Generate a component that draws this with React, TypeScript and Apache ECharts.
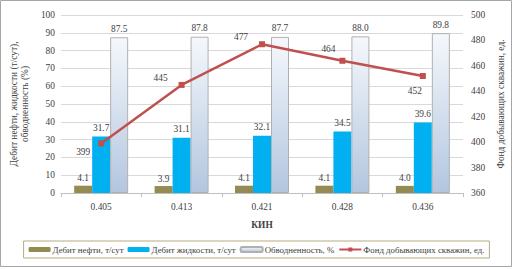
import React, { useEffect, useRef } from "react";
import * as echarts from "echarts";

const categories = ["0.405", "0.413", "0.421", "0.428", "0.436"];
const oilRate = [4.1, 3.9, 4.1, 4.1, 4.0];
const liquidRate = [31.7, 31.1, 32.1, 34.5, 39.6];
const waterCut = [87.5, 87.8, 87.7, 88.0, 89.8];
const wellStock = [399, 445, 477, 464, 452];
const wellLabelOffsets = [[-18, 9], [-21, -7], [-21, -7], [-14, -12], [-8, 15]];

const FONT = '"Times New Roman", "Liberation Serif", serif';
const FS = 9.4;
const LEGEND_FS = 8.8;
const TXT = "#404040";

export default function App() {
  const ref = useRef<HTMLDivElement>(null);
  useEffect(() => {
    document.body.style.margin = "0";
    const chart = echarts.init(ref.current!, null, { renderer: "svg" });
    const labelStyle = { fontFamily: FONT, fontSize: FS, color: TXT };
    chart.setOption({
      animation: false,
      textStyle: { fontFamily: FONT },
      graphic: [
        {
          type: "rect",
          shape: { x: 0.5, y: 0.5, width: 511, height: 266 },
          style: { fill: "none", stroke: "#a6a6a6", lineWidth: 1 },
          silent: true,
        },
      ],
      grid: { left: 58, right: 48, top: 15, bottom: 76 },
      legend: {
        left: "center",
        top: 241,
        width: 500,
        padding: [4, 5],
        itemGap: 4,
        itemWidth: 22,
        itemHeight: 5,
        borderColor: "#b5ad7d",
        borderWidth: 1,
        textStyle: { fontFamily: FONT, fontSize: LEGEND_FS, color: TXT, padding: [0, 0, 0, -3] },
        data: [
          "Дебит нефти, т/сут",
          "Дебит жидкости, т/сут",
          "Обводненность, %",
          "Фонд добывающих скважин, ед.",
        ],
      },
      xAxis: {
        type: "category",
        data: categories,
        name: "КИН",
        nameLocation: "middle",
        nameGap: 27,
        nameTextStyle: { fontFamily: FONT, fontSize: FS, color: TXT, fontWeight: "bold" },
        axisLine: { lineStyle: { color: "#bfbfbf" } },
        axisTick: { show: true, length: 4, lineStyle: { color: "#bfbfbf" } },
        axisLabel: { ...labelStyle, margin: 9 },
      },
      yAxis: [
        {
          type: "value",
          min: 0,
          max: 100,
          interval: 10,
          name: "Дебит нефти, жидкости (т/сут),\nобводненность (%)",
          nameLocation: "middle",
          nameRotate: 90,
          nameGap: 22,
          nameTextStyle: { fontFamily: FONT, fontSize: FS, color: TXT, lineHeight: 11 },
          axisLine: { show: false },
          axisTick: { show: false },
          splitLine: { lineStyle: { color: "#d9d9d9" } },
          axisLabel: { ...labelStyle, margin: 6 },
        },
        {
          type: "value",
          min: 360,
          max: 500,
          interval: 20,
          name: "Фонд добывающих скважин, ед.",
          nameLocation: "middle",
          nameRotate: 90,
          nameGap: 31,
          nameTextStyle: { fontFamily: FONT, fontSize: FS, color: TXT },
          axisLine: { show: false },
          axisTick: { show: false },
          splitLine: { show: false },
          axisLabel: { ...labelStyle, margin: 8 },
        },
      ],
      series: [
        {
          name: "Дебит нефти, т/сут",
          type: "bar",
          data: oilRate,
          barWidth: 18,
          barGap: "0%",
          itemStyle: { color: "#948a54" },
          label: { show: true, position: "top", distance: 3, ...labelStyle, formatter: (p: any) => p.value.toFixed(1) },
        },
        {
          name: "Дебит жидкости, т/сут",
          type: "bar",
          data: liquidRate,
          barWidth: 18,
          barGap: "0%",
          itemStyle: { color: "#00b0f0" },
          label: { show: true, position: "top", distance: 4, ...labelStyle, formatter: (p: any) => p.value.toFixed(1) },
        },
        {
          name: "Обводненность, %",
          type: "bar",
          data: waterCut,
          barWidth: 18,
          barGap: "0%",
          itemStyle: {
            color: new echarts.graphic.LinearGradient(0, 0, 0, 1, [
              { offset: 0, color: "#f5f8fc" },
              { offset: 1, color: "#b3c6df" },
            ]),
            borderColor: "#b0b0b0",
            borderWidth: 1,
          },
          label: { show: true, position: "top", distance: 4, ...labelStyle, formatter: (p: any) => p.value.toFixed(1) },
        },
        {
          name: "Фонд добывающих скважин, ед.",
          type: "line",
          yAxisIndex: 1,
          z: 5,
          data: wellStock.map((v, i) => ({
            value: v,
            label: { offset: wellLabelOffsets[i] },
          })),
          symbol: "rect",
          symbolSize: 6,
          itemStyle: { color: "#c0504d" },
          lineStyle: { color: "#c0504d", width: 2.5 },
          label: { show: true, position: "inside", align: "center", verticalAlign: "middle", ...labelStyle },
        },
      ],
    });
    return () => chart.dispose();
  }, []);
  return (
    <div
      ref={ref}
      style={{ position: "absolute", left: 0, top: 0, width: 513, height: 269 }}
    />
  );
}
